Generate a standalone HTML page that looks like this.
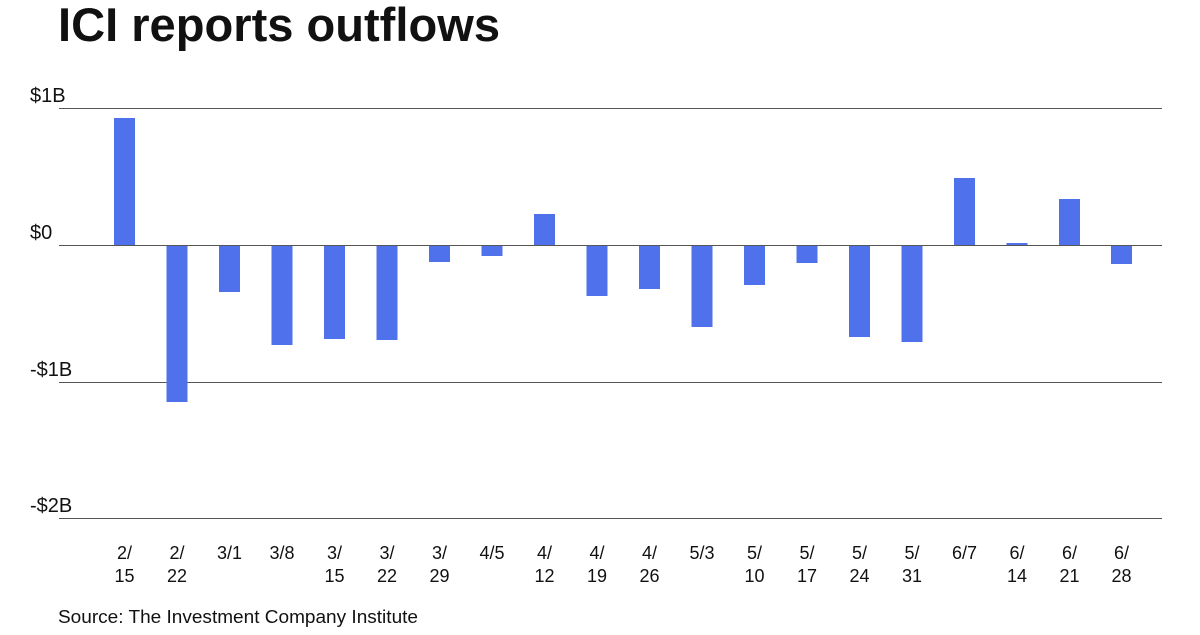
<!DOCTYPE html>
<html><head><meta charset="utf-8"><style>
body{margin:0;width:1200px;height:630px;background:#fff;overflow:hidden;font-family:"Liberation Sans",sans-serif;color:#111}
</style></head><body>
<svg width="1200" height="630" xmlns="http://www.w3.org/2000/svg" font-family="Liberation Sans, sans-serif">
<text x="58" y="41" font-size="47" font-weight="bold" fill="#111" textLength="442" lengthAdjust="spacingAndGlyphs">ICI reports outflows</text>
<g fill="#111" font-size="20">
<text x="30" y="102">$1B</text>
<text x="30" y="239">$0</text>
<text x="30" y="376">-$1B</text>
<text x="30" y="512">-$2B</text>
</g>
<g stroke="#555" stroke-width="1">
<line x1="59" y1="108.5" x2="1162" y2="108.5"/>
<line x1="59" y1="382.5" x2="1162" y2="382.5"/>
<line x1="59" y1="518.5" x2="1162" y2="518.5"/>
</g>
<g fill="#4f71eb">
<rect x="114" y="118" width="21" height="127"/>
<rect x="166.5" y="245" width="21" height="157"/>
<rect x="219" y="245" width="21" height="47"/>
<rect x="271.5" y="245" width="21" height="100"/>
<rect x="324" y="245" width="21" height="94"/>
<rect x="376.5" y="245" width="21" height="95"/>
<rect x="429" y="245" width="21" height="17"/>
<rect x="481.5" y="245" width="21" height="11"/>
<rect x="534" y="214" width="21" height="31"/>
<rect x="586.5" y="245" width="21" height="51"/>
<rect x="639" y="245" width="21" height="44"/>
<rect x="691.5" y="245" width="21" height="82"/>
<rect x="744" y="245" width="21" height="40"/>
<rect x="796.5" y="245" width="21" height="18"/>
<rect x="849" y="245" width="21" height="92"/>
<rect x="901.5" y="245" width="21" height="97"/>
<rect x="954" y="178" width="21" height="67"/>
<rect x="1006.5" y="243" width="21" height="2"/>
<rect x="1059" y="199" width="21" height="46"/>
<rect x="1111" y="245" width="21" height="19"/>
</g>
<line x1="59" y1="245.5" x2="1162" y2="245.5" stroke="#555" stroke-width="1"/>
<g fill="#111" font-size="18" text-anchor="middle">
<text x="124.5" y="559">2/</text><text x="124.5" y="582">15</text>
<text x="177" y="559">2/</text><text x="177" y="582">22</text>
<text x="229.5" y="559">3/1</text>
<text x="282" y="559">3/8</text>
<text x="334.5" y="559">3/</text><text x="334.5" y="582">15</text>
<text x="387" y="559">3/</text><text x="387" y="582">22</text>
<text x="439.5" y="559">3/</text><text x="439.5" y="582">29</text>
<text x="492" y="559">4/5</text>
<text x="544.5" y="559">4/</text><text x="544.5" y="582">12</text>
<text x="597" y="559">4/</text><text x="597" y="582">19</text>
<text x="649.5" y="559">4/</text><text x="649.5" y="582">26</text>
<text x="702" y="559">5/3</text>
<text x="754.5" y="559">5/</text><text x="754.5" y="582">10</text>
<text x="807" y="559">5/</text><text x="807" y="582">17</text>
<text x="859.5" y="559">5/</text><text x="859.5" y="582">24</text>
<text x="912" y="559">5/</text><text x="912" y="582">31</text>
<text x="964.5" y="559">6/7</text>
<text x="1017" y="559">6/</text><text x="1017" y="582">14</text>
<text x="1069.5" y="559">6/</text><text x="1069.5" y="582">21</text>
<text x="1121.5" y="559">6/</text><text x="1121.5" y="582">28</text>
</g>
<text x="58" y="623" font-size="18" fill="#111" textLength="360" lengthAdjust="spacingAndGlyphs">Source: The Investment Company Institute</text>
</svg>
</body></html>
